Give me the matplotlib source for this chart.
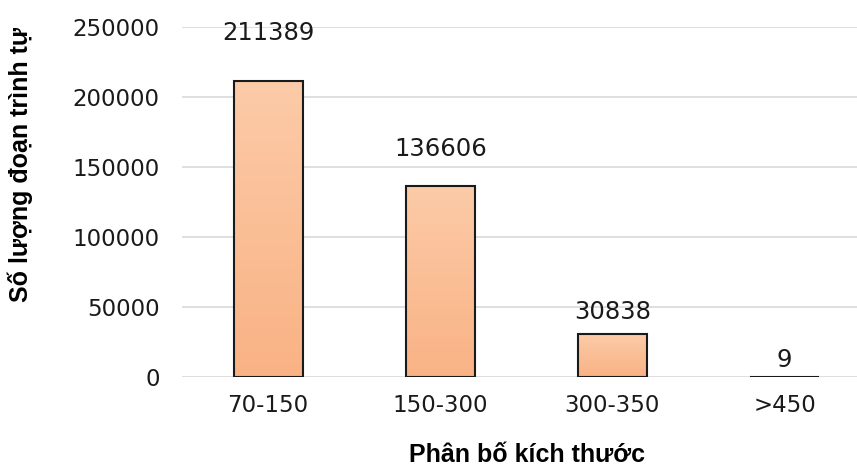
import matplotlib.pyplot as plt
import numpy as np
from matplotlib.colors import LinearSegmentedColormap

# data
categories = ['70-150', '150-300', '300-350', '>450']
counts = [211389, 136606, 30838, 9]
yticks = [0, 50000, 100000, 150000, 200000, 250000]

fig = plt.figure(figsize=(8.57, 4.70), dpi=100)
ax = fig.add_axes([182/857, 1 - 377/470, (857-182)/857, 350/470])

x = np.arange(len(categories))
bars = ax.bar(x, counts, width=0.40, color='none', edgecolor='#1a1a1a', linewidth=1.5, zorder=3)

# peach gradient inside each bar
cmap = LinearSegmentedColormap.from_list('peach', ['#F9B284', '#FCCBA8'])
grad = np.linspace(0, 1, 256).reshape(-1, 1)
for b in bars:
    bx, by = b.get_x(), b.get_y()
    bw, bh = b.get_width(), b.get_height()
    if bh <= 0:
        continue
    ax.imshow(grad, cmap=cmap, aspect='auto', origin='lower',
              extent=[bx, bx + bw, by, by + bh], zorder=2)

# value labels sit a bit higher above taller bars
for xi, v in zip(x, counts):
    ax.text(xi, v * 1.105 + 3600, str(v), ha='center', va='bottom',
            fontsize=17.5, color='#1a1a1a', clip_on=False)

ax.set_xlim(-0.5, 3.42)
ax.set_ylim(0, 250000)
ax.set_yticks(yticks)
ax.set_yticklabels([str(t) for t in yticks])
ax.set_xticks(x)
ax.set_xticklabels(categories)
ax.tick_params(axis='both', length=0, labelsize=16.5, colors='#1a1a1a')
ax.tick_params(axis='y', pad=16)
ax.tick_params(axis='x', pad=12)
ax.grid(axis='y', color='#d9d9d9', linewidth=1.2, zorder=0)
ax.set_axisbelow(True)
for s in ax.spines.values():
    s.set_visible(False)

fig.text(527/857, 1 - 455/470, 'Phân bố kích thước', ha='center', va='center',
         fontsize=18, fontweight='bold', family='Liberation Sans')
fig.text(20/857, 1 - 165/470, 'Số lượng đoạn trình tự', ha='center', va='center',
         rotation=90, fontsize=18, fontweight='bold', family='Liberation Sans')

fig.savefig('out.png', dpi=100)
